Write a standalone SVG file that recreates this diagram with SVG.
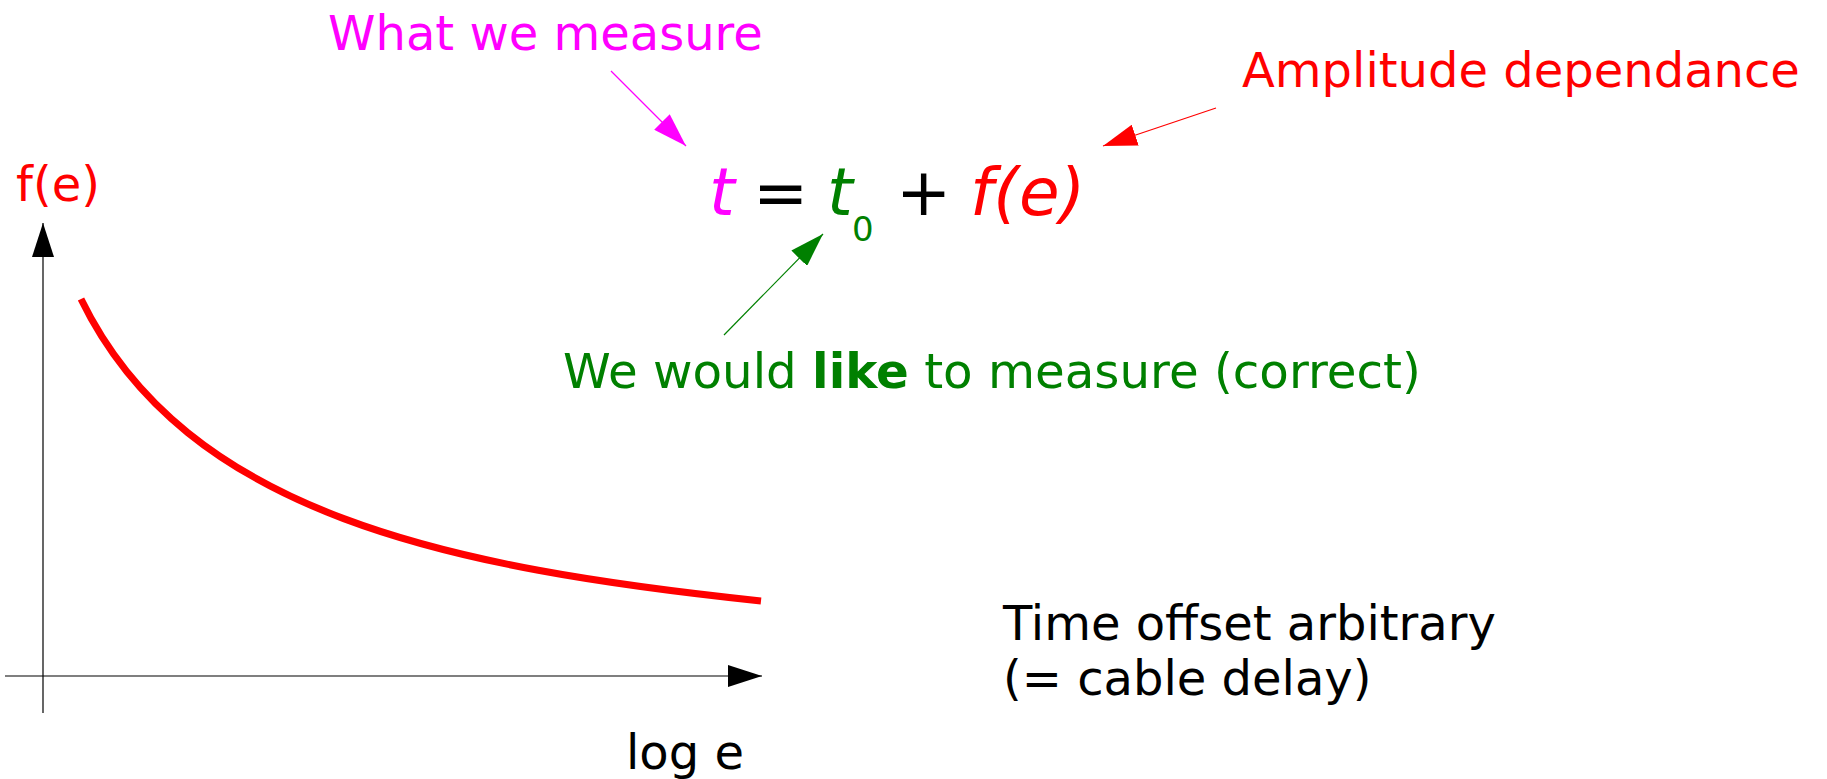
<svg xmlns="http://www.w3.org/2000/svg" width="1827" height="779" viewBox="0 0 1827 779">
<style>
text{font-family:"DejaVu Sans","Liberation Sans",sans-serif;font-size:48px}
.mag{fill:#ff00ff}.red{fill:#ff0000}.grn{fill:#008000}.blk{fill:#000}
.eq{font-size:66px}
.it{font-style:oblique}
.ln{fill:none;stroke-width:1.2}
</style>
<defs>
<marker id="ahK" markerUnits="userSpaceOnUse" markerWidth="34" markerHeight="22" refX="34" refY="11" orient="auto"><path d="M0,0 L34,11 L0,22 z" fill="#000"/></marker>
<marker id="ahM" markerUnits="userSpaceOnUse" markerWidth="34" markerHeight="22" refX="34" refY="11" orient="auto"><path d="M0,0 L34,11 L0,22 z" fill="#ff00ff"/></marker>
<marker id="ahR" markerUnits="userSpaceOnUse" markerWidth="34" markerHeight="22" refX="34" refY="11" orient="auto"><path d="M0,0 L34,11 L0,22 z" fill="#ff0000"/></marker>
<marker id="ahG" markerUnits="userSpaceOnUse" markerWidth="34" markerHeight="22" refX="34" refY="11" orient="auto"><path d="M0,0 L34,11 L0,22 z" fill="#008000"/></marker>
</defs>
<rect width="1827" height="779" fill="#fff"/>
<g id="plot">
<path d="M81,299 C186,515 450,568 761,601" fill="none" stroke="#ff0000" stroke-width="7"/>
</g>
<g id="connectors">
<line class="ln" x1="43" y1="713" x2="43" y2="223" stroke="#000" marker-end="url(#ahK)"/>
<line class="ln" x1="5" y1="676" x2="762" y2="676" stroke="#000" marker-end="url(#ahK)"/>
<line class="ln" x1="611" y1="71" x2="686" y2="146" stroke="#ff00ff" marker-end="url(#ahM)"/>
<line class="ln" x1="1216" y1="108" x2="1103" y2="146" stroke="#ff0000" marker-end="url(#ahR)"/>
<line class="ln" x1="724" y1="335" x2="823" y2="234" stroke="#008000" marker-end="url(#ahG)"/>
</g>
<g id="label-fe"><text class="red" x="16" y="201">f(e)</text></g>
<g id="label-measure"><text class="mag" x="328" y="50">What we measure</text></g>
<g id="label-amplitude"><text class="red" x="1242" y="87">Amplitude dependance</text></g>
<g id="formula">
<text class="eq mag it" x="709" y="215">t</text>
<text class="eq blk" x="753" y="215">=</text>
<text class="eq grn it" x="827" y="215">t</text>
<text class="grn" style="font-size:34px" x="852" y="241">0</text>
<text class="eq blk" x="896" y="215">+</text>
<text class="eq red it" x="970" y="215">f(e)</text>
</g>
<g id="label-like"><text class="grn" x="563" y="388" style="font-size:48.3px">We would <tspan font-weight="bold">like</tspan> to measure (correct)</text></g>
<g id="label-offset"><text class="blk" x="1003" y="640">Time offset arbitrary</text><text class="blk" x="1003" y="695">(= cable delay)</text></g>
<g id="label-loge"><text class="blk" x="626" y="769">log e</text></g>
</svg>
